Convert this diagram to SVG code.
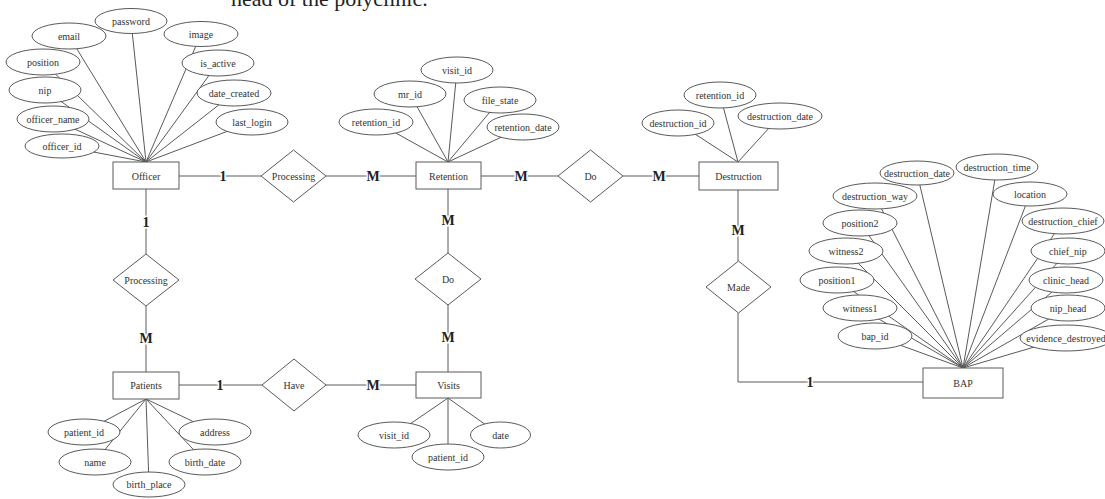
<svg xmlns="http://www.w3.org/2000/svg" width="1105" height="499" viewBox="0 0 1105 499">
<style>
.bg{fill:#fff}
.e{fill:#fff;stroke:#5a5a5a;stroke-width:1}
.t{font-family:"Liberation Serif",serif;font-size:10px;fill:#333;text-anchor:middle;dominant-baseline:central}
.c{font-family:"Liberation Serif",serif;font-size:14px;font-weight:bold;fill:#222;text-anchor:middle;dominant-baseline:central;paint-order:stroke;stroke:#fff;stroke-width:3px}
.l{stroke:#5a5a5a;stroke-width:1;fill:none}
.h{font-family:"Liberation Serif",serif;font-size:22px;fill:#222}
</style>
<rect class="bg" x="0" y="0" width="1105" height="499"/>
<text class="h" x="231" y="6">head of the polyclinic.</text>

<g id="connectors">
  <!-- Officer attributes -->
  <g id="officer-attr-lines">
    <line class="l" x1="131" y1="21" x2="146" y2="162"/>
    <line class="l" x1="69" y1="36" x2="146" y2="162"/>
    <line class="l" x1="201" y1="34" x2="146" y2="162"/>
    <line class="l" x1="43" y1="62" x2="146" y2="162"/>
    <line class="l" x1="218" y1="63" x2="146" y2="162"/>
    <line class="l" x1="45" y1="90" x2="146" y2="162"/>
    <line class="l" x1="234" y1="93" x2="146" y2="162"/>
    <line class="l" x1="53" y1="119" x2="146" y2="162"/>
    <line class="l" x1="252" y1="122" x2="146" y2="162"/>
    <line class="l" x1="62" y1="146" x2="146" y2="162"/>
  </g>
  <!-- Retention attributes -->
  <g id="retention-attr-lines">
    <line class="l" x1="457" y1="70" x2="448" y2="162"/>
    <line class="l" x1="410" y1="94" x2="448" y2="162"/>
    <line class="l" x1="500" y1="100" x2="448" y2="162"/>
    <line class="l" x1="376" y1="122" x2="448" y2="162"/>
    <line class="l" x1="523" y1="127" x2="448" y2="162"/>
  </g>
  <!-- Destruction attributes -->
  <g id="destruction-attr-lines">
    <line class="l" x1="720" y1="95" x2="738" y2="162"/>
    <line class="l" x1="678" y1="123" x2="738" y2="162"/>
    <line class="l" x1="780" y1="116" x2="738" y2="162"/>
  </g>
  <!-- BAP attributes -->
  <g id="bap-attr-lines">
    <line class="l" x1="917" y1="173" x2="963" y2="368"/>
    <line class="l" x1="997" y1="167" x2="963" y2="368"/>
    <line class="l" x1="875" y1="196" x2="963" y2="368"/>
    <line class="l" x1="1030" y1="194" x2="963" y2="368"/>
    <line class="l" x1="860" y1="223" x2="963" y2="368"/>
    <line class="l" x1="1063" y1="221" x2="963" y2="368"/>
    <line class="l" x1="846" y1="251" x2="963" y2="368"/>
    <line class="l" x1="1068" y1="251" x2="963" y2="368"/>
    <line class="l" x1="837" y1="280" x2="963" y2="368"/>
    <line class="l" x1="1066" y1="280" x2="963" y2="368"/>
    <line class="l" x1="860" y1="308" x2="963" y2="368"/>
    <line class="l" x1="1068" y1="308" x2="963" y2="368"/>
    <line class="l" x1="875" y1="336" x2="963" y2="368"/>
    <line class="l" x1="1065" y1="338" x2="963" y2="368"/>
  </g>
  <!-- Patients attributes -->
  <g id="patients-attr-lines">
    <line class="l" x1="84" y1="432" x2="146" y2="399"/>
    <line class="l" x1="215" y1="432" x2="146" y2="399"/>
    <line class="l" x1="95" y1="462" x2="146" y2="399"/>
    <line class="l" x1="205" y1="462" x2="146" y2="399"/>
    <line class="l" x1="149" y1="484" x2="146" y2="399"/>
  </g>
  <!-- Visits attributes -->
  <g id="visits-attr-lines">
    <line class="l" x1="394" y1="435" x2="448" y2="398"/>
    <line class="l" x1="500" y1="435" x2="448" y2="398"/>
    <line class="l" x1="448" y1="457" x2="448" y2="398"/>
  </g>
  <!-- Relationship lines -->
  <g id="relationship-lines">
    <line class="l" x1="179" y1="176" x2="261" y2="176"/>
    <line class="l" x1="326" y1="176" x2="416" y2="176"/>
    <line class="l" x1="481" y1="176" x2="558" y2="176"/>
    <line class="l" x1="623" y1="176" x2="699" y2="176"/>
    <line class="l" x1="146" y1="189" x2="146" y2="254"/>
    <line class="l" x1="146" y1="306" x2="146" y2="372"/>
    <line class="l" x1="179" y1="385" x2="262" y2="385"/>
    <line class="l" x1="326" y1="385" x2="416" y2="385"/>
    <line class="l" x1="448" y1="189" x2="448" y2="253"/>
    <line class="l" x1="448" y1="305" x2="448" y2="372"/>
    <line class="l" x1="738" y1="190" x2="738" y2="261"/>
    <polyline class="l" points="738,313 738,382 923,382"/>
  </g>
  <g id="cardinalities">
    <text class="c" x="223" y="176">1</text>
    <text class="c" x="373" y="176">M</text>
    <text class="c" x="521" y="176">M</text>
    <text class="c" x="659" y="176">M</text>
    <text class="c" x="146" y="222">1</text>
    <text class="c" x="146" y="338">M</text>
    <text class="c" x="220" y="385">1</text>
    <text class="c" x="373" y="385">M</text>
    <text class="c" x="448" y="220">M</text>
    <text class="c" x="448" y="337">M</text>
    <text class="c" x="738" y="230">M</text>
    <text class="c" x="810" y="382">1</text>
  </g>
</g>

<!-- Entities -->
<g id="officer"><rect class="e" x="113" y="162" width="66" height="27"/><text class="t" x="146" y="176">Officer</text></g>
<g id="retention"><rect class="e" x="416" y="162" width="65" height="27"/><text class="t" x="448.5" y="176">Retention</text></g>
<g id="destruction"><rect class="e" x="699" y="162" width="79" height="28"/><text class="t" x="738.5" y="176">Destruction</text></g>
<g id="patients"><rect class="e" x="113" y="372" width="66" height="27"/><text class="t" x="146" y="385.5">Patients</text></g>
<g id="visits"><rect class="e" x="416" y="372" width="65" height="26"/><text class="t" x="448.5" y="385">Visits</text></g>
<g id="bap"><rect class="e" x="923" y="368" width="80" height="30"/><text class="t" x="963" y="383">BAP</text></g>

<!-- Relationships -->
<g id="rel-processing-1"><polygon class="e" points="293.5,150 326,176 293.5,202 261,176"/><text class="t" x="293.5" y="176">Processing</text></g>
<g id="rel-do-1"><polygon class="e" points="590.5,150 623,176 590.5,202 558,176"/><text class="t" x="590.5" y="176">Do</text></g>
<g id="rel-processing-2"><polygon class="e" points="146,254 179,280 146,306 113,280"/><text class="t" x="146" y="280">Processing</text></g>
<g id="rel-do-2"><polygon class="e" points="448,253 481,279 448,305 415,279"/><text class="t" x="448" y="279">Do</text></g>
<g id="rel-have"><polygon class="e" points="294,359 326,385 294,411 262,385"/><text class="t" x="294" y="385">Have</text></g>
<g id="rel-made"><polygon class="e" points="738.5,261 771,287 738.5,313 706,287"/><text class="t" x="738.5" y="287">Made</text></g>

<!-- Officer attributes -->
<g id="officer-password"><ellipse class="e" cx="131" cy="21" rx="36" ry="12.5"/><text class="t" x="131" y="21">password</text></g>
<g id="officer-email"><ellipse class="e" cx="69" cy="36" rx="37" ry="13"/><text class="t" x="69" y="36">email</text></g>
<g id="officer-image"><ellipse class="e" cx="201" cy="34" rx="37" ry="12.5"/><text class="t" x="201" y="34">image</text></g>
<g id="officer-position"><ellipse class="e" cx="43" cy="62" rx="37" ry="13"/><text class="t" x="43" y="62">position</text></g>
<g id="officer-is_active"><ellipse class="e" cx="218" cy="63" rx="36" ry="13"/><text class="t" x="218" y="63">is_active</text></g>
<g id="officer-nip"><ellipse class="e" cx="45" cy="90" rx="36" ry="13"/><text class="t" x="45" y="90">nip</text></g>
<g id="officer-date_created"><ellipse class="e" cx="234" cy="93" rx="37" ry="13"/><text class="t" x="234" y="93">date_created</text></g>
<g id="officer-officer_name"><ellipse class="e" cx="53" cy="119" rx="36" ry="13"/><text class="t" x="53" y="119">officer_name</text></g>
<g id="officer-last_login"><ellipse class="e" cx="252" cy="122" rx="36" ry="13"/><text class="t" x="252" y="122">last_login</text></g>
<g id="officer-officer_id"><ellipse class="e" cx="62" cy="146" rx="37" ry="12"/><text class="t" x="62" y="146">officer_id</text></g>

<!-- Retention attributes -->
<g id="retention-visit_id"><ellipse class="e" cx="457" cy="70" rx="36" ry="13"/><text class="t" x="457" y="70">visit_id</text></g>
<g id="retention-mr_id"><ellipse class="e" cx="410" cy="94" rx="36" ry="13"/><text class="t" x="410" y="94">mr_id</text></g>
<g id="retention-file_state"><ellipse class="e" cx="500" cy="100" rx="36" ry="13"/><text class="t" x="500" y="100">file_state</text></g>
<g id="retention-retention_id"><ellipse class="e" cx="376" cy="122" rx="37" ry="13"/><text class="t" x="376" y="122">retention_id</text></g>
<g id="retention-retention_date"><ellipse class="e" cx="523" cy="127" rx="36" ry="13"/><text class="t" x="523" y="127">retention_date</text></g>

<!-- Destruction attributes -->
<g id="destruction-retention_id"><ellipse class="e" cx="720" cy="95" rx="36" ry="13"/><text class="t" x="720" y="95">retention_id</text></g>
<g id="destruction-destruction_id"><ellipse class="e" cx="678" cy="123" rx="36" ry="13"/><text class="t" x="678" y="123">destruction_id</text></g>
<g id="destruction-destruction_date"><ellipse class="e" cx="780" cy="116" rx="42" ry="13"/><text class="t" x="780" y="116">destruction_date</text></g>

<!-- BAP attributes -->
<g id="bap-destruction_date"><ellipse class="e" cx="917" cy="173" rx="37" ry="12"/><text class="t" x="917" y="173">destruction_date</text></g>
<g id="bap-destruction_time"><ellipse class="e" cx="997" cy="167" rx="41" ry="13"/><text class="t" x="997" y="167">destruction_time</text></g>
<g id="bap-destruction_way"><ellipse class="e" cx="875" cy="196" rx="42" ry="13"/><text class="t" x="875" y="196">destruction_way</text></g>
<g id="bap-location"><ellipse class="e" cx="1030" cy="194" rx="37" ry="12"/><text class="t" x="1030" y="194">location</text></g>
<g id="bap-position2"><ellipse class="e" cx="860" cy="223" rx="37" ry="13"/><text class="t" x="860" y="223">position2</text></g>
<g id="bap-destruction_chief"><ellipse class="e" cx="1063" cy="221" rx="41" ry="13"/><text class="t" x="1063" y="221">destruction_chief</text></g>
<g id="bap-witness2"><ellipse class="e" cx="846" cy="251" rx="37" ry="13"/><text class="t" x="846" y="251">witness2</text></g>
<g id="bap-chief_nip"><ellipse class="e" cx="1068" cy="251" rx="37" ry="13"/><text class="t" x="1068" y="251">chief_nip</text></g>
<g id="bap-position1"><ellipse class="e" cx="837" cy="280" rx="37" ry="13"/><text class="t" x="837" y="280">position1</text></g>
<g id="bap-clinic_head"><ellipse class="e" cx="1066" cy="280" rx="37" ry="13"/><text class="t" x="1066" y="280">clinic_head</text></g>
<g id="bap-witness1"><ellipse class="e" cx="860" cy="308" rx="37" ry="13"/><text class="t" x="860" y="308">witness1</text></g>
<g id="bap-nip_head"><ellipse class="e" cx="1068" cy="308" rx="37" ry="13"/><text class="t" x="1068" y="308">nip_head</text></g>
<g id="bap-bap_id"><ellipse class="e" cx="875" cy="336" rx="37" ry="13"/><text class="t" x="875" y="336">bap_id</text></g>
<g id="bap-evidence_destroyed"><ellipse class="e" cx="1066" cy="338" rx="46" ry="13"/><text class="t" x="1066" y="338">evidence_destroyed</text></g>

<!-- Patients attributes -->
<g id="patients-patient_id"><ellipse class="e" cx="84" cy="432" rx="36" ry="13"/><text class="t" x="84" y="432">patient_id</text></g>
<g id="patients-address"><ellipse class="e" cx="215" cy="432" rx="36" ry="13"/><text class="t" x="215" y="432">address</text></g>
<g id="patients-name"><ellipse class="e" cx="95" cy="462" rx="36" ry="13"/><text class="t" x="95" y="462">name</text></g>
<g id="patients-birth_date"><ellipse class="e" cx="205" cy="462" rx="36" ry="13"/><text class="t" x="205" y="462">birth_date</text></g>
<g id="patients-birth_place"><ellipse class="e" cx="149" cy="484.5" rx="36" ry="12.5"/><text class="t" x="149" y="484.5">birth_place</text></g>

<!-- Visits attributes -->
<g id="visits-visit_id"><ellipse class="e" cx="394" cy="435" rx="36" ry="13"/><text class="t" x="394" y="435">visit_id</text></g>
<g id="visits-date"><ellipse class="e" cx="500.5" cy="435" rx="30" ry="13"/><text class="t" x="500.5" y="435">date</text></g>
<g id="visits-patient_id"><ellipse class="e" cx="448" cy="457" rx="36" ry="13"/><text class="t" x="448" y="457">patient_id</text></g>
</svg>
